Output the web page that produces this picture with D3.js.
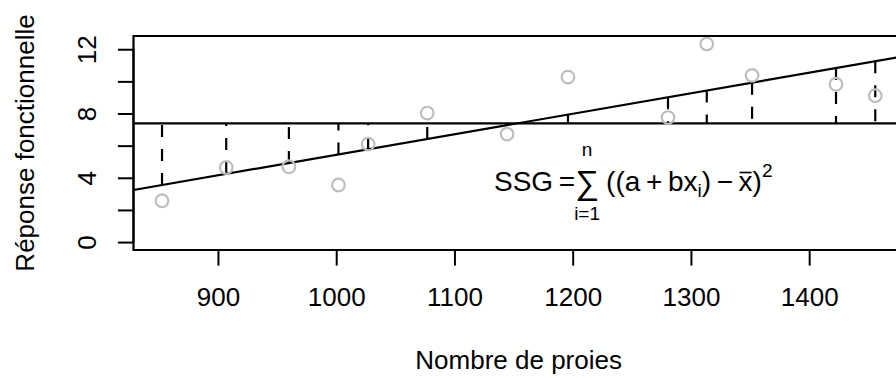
<!DOCTYPE html>
<html><head><meta charset="utf-8">
<script src="https://cdn.jsdelivr.net/npm/d3@7"></script>
<style>
body{margin:0;background:#fff}
svg{display:block}
text{font-family:"Liberation Sans",Arial,Helvetica,sans-serif;fill:#000}
</style>
</head><body>
<svg id="c" width="896" height="378"></svg>
<script>
// ---- data ----
const preyCounts = [852.7, 907, 960, 1001.9, 1027, 1077, 1144.5, 1196, 1280.6, 1313.4, 1351.7, 1422.7, 1455.9];
const responses  = [2.57, 4.64, 4.69, 3.55, 6.1, 8.03, 6.72, 10.27, 7.75, 12.33, 10.37, 9.82, 9.11];
const xTicks = [900, 1000, 1100, 1200, 1300, 1400];
const xTickLabels = ["900", "1000", "1100", "1200", "1300", "1400"];
const yTicks = [0, 2, 4, 6, 8, 10, 12];
const yTickLabels = ["0", "", "4", "", "8", "", "12"];
const interceptA = -7.34;
const slopeB = 0.01277;
const xTitle = "Nombre de proies";
const yTitle = "Réponse fonctionnelle";

// ---- layout ----
const W = 896, H = 378;
const m = {left: 133.5, top: 36, right: 903.8, bottom: 250};
const fs = 26, fsF = 28;
const lineH = 31.2;           // one margin line
const tickLen = 0.5 * lineH;
const svg = d3.select("#c");
svg.append("rect").attr("width", W).attr("height", H).attr("fill", "#fff");

const xr = d3.extent(preyCounts), xpad = 0.04 * (xr[1] - xr[0]);
const x = d3.scaleLinear().domain([xr[0] - xpad, xr[1] + xpad]).range([m.left, m.right]);
const ymax = d3.max(responses), ypad = 0.04 * ymax;
const y = d3.scaleLinear().domain([-ypad, ymax + ypad]).range([m.bottom, m.top]);

svg.append("clipPath").attr("id", "clip").append("rect")
  .attr("x", m.left).attr("y", m.top).attr("width", m.right - m.left).attr("height", m.bottom - m.top);
const plot = svg.append("g").attr("clip-path", "url(#clip)");

const meanY = d3.mean(responses);
const fit = v => interceptA + slopeB * v;

// dashed residual segments (fitted -> mean)
plot.selectAll("line.res").data(preyCounts).join("line")
  .attr("x1", d => x(d)).attr("x2", d => x(d))
  .attr("y1", d => y(fit(d))).attr("y2", y(meanY))
  .attr("stroke", "#000").attr("stroke-width", 2.2).attr("stroke-dasharray", "12,12");

// mean line
plot.append("line").attr("x1", m.left).attr("x2", m.right)
  .attr("y1", y(meanY)).attr("y2", y(meanY)).attr("stroke", "#000").attr("stroke-width", 2.2);

// regression line
const xd = x.domain();
plot.append("line").attr("x1", x(xd[0])).attr("x2", x(xd[1]))
  .attr("y1", y(fit(xd[0]))).attr("y2", y(fit(xd[1]))).attr("stroke", "#000").attr("stroke-width", 2.2);

// points
plot.selectAll("circle").data(preyCounts).join("circle")
  .attr("cx", d => x(d)).attr("cy", (d, i) => y(responses[i])).attr("r", 6.3)
  .attr("fill", "none").attr("stroke", "#bebebe").attr("stroke-width", 2.2);

// box
svg.append("path")
  .attr("d", `M${m.right},${m.top}H${m.left}V${m.bottom}H${m.right}`)
  .attr("fill", "none").attr("stroke", "#000").attr("stroke-width", 2.2);

// x axis
const xAxis = d3.axisBottom(x).tickValues(xTicks).tickFormat((d, i) => xTickLabels[i])
  .tickSize(tickLen);
const gx = svg.append("g").attr("transform", `translate(0,${m.bottom})`).call(xAxis);
gx.select(".domain").remove();
gx.selectAll(".tick line").attr("stroke", "#000").attr("stroke-width", 2);
gx.selectAll(".tick text").attr("font-size", fs).attr("font-family", null).attr("fill", "#000")
  .attr("y", 1.8 * lineH).attr("dy", null);
gx.append("line").attr("x1", x(xTicks[0])).attr("x2", x(xTicks[xTicks.length - 1]))
  .attr("stroke", "#000").attr("stroke-width", 2);

// y axis
const yAxis = d3.axisLeft(y).tickValues(yTicks).tickFormat((d, i) => yTickLabels[i])
  .tickSize(tickLen);
const gy = svg.append("g").attr("transform", `translate(${m.left},0)`).call(yAxis);
gy.select(".domain").remove();
gy.selectAll(".tick line").attr("stroke", "#000").attr("stroke-width", 2);
gy.selectAll(".tick text").attr("font-size", fs).attr("font-family", null).attr("fill", "#000")
  .attr("x", null).attr("dy", null).attr("text-anchor", "middle")
  .attr("transform", `translate(${-1.2 * lineH},0) rotate(-90)`);
gy.append("line").attr("y1", y(yTicks[0])).attr("y2", y(yTicks[yTicks.length - 1]))
  .attr("stroke", "#000").attr("stroke-width", 2);

// titles
svg.append("text").attr("x", (m.left + m.right) / 2).attr("y", m.bottom + 3.8 * lineH)
  .attr("text-anchor", "middle").attr("font-size", fs).text(xTitle);
svg.append("text").attr("transform", `translate(${m.left - 3.2 * lineH},${(m.top + m.bottom) / 2}) rotate(-90)`)
  .attr("text-anchor", "middle").attr("font-size", fs).text(yTitle);

// formula annotation
const fg = svg.append("g").attr("transform", "translate(494,191)");
const small = fsF * 0.68;
let cx = 0;
function piece(str, opts = {}) {
  const t = fg.append("text").attr("x", cx).attr("y", opts.dy || 0)
    .attr("font-size", opts.size || fsF).text(str);
  const w = t.node().getComputedTextLength();
  if (opts.bar) {
    fg.append("line").attr("x1", cx + 1).attr("x2", cx + w - 1)
      .attr("y1", -fsF * 0.66).attr("y2", -fsF * 0.66).attr("stroke", "#000").attr("stroke-width", 1.6);
  }
  cx += w + (opts.gap || 0);
  return t;
}
piece("SSG", {gap: fsF * 0.2});
piece("=");
const sumX = cx + 12;
fg.append("text").attr("x", sumX).attr("y", 3).attr("text-anchor", "middle")
  .attr("font-size", fsF * 1.2).text("∑");
fg.append("text").attr("x", sumX).attr("y", -35).attr("text-anchor", "middle")
  .attr("font-size", small).text("n");
fg.append("text").attr("x", sumX).attr("y", 29).attr("text-anchor", "middle")
  .attr("font-size", small).text("i=1");
cx = sumX + 19;
const sp = fsF * 0.2;
piece("((a", {gap: sp});
piece("+", {gap: sp});
piece("bx");
piece("i", {size: small, dy: 6});
piece(")", {gap: sp});
piece("−", {gap: sp});
piece("x", {bar: true});
piece(")");
piece("2", {size: small, dy: -14});
</script>
</body></html>
